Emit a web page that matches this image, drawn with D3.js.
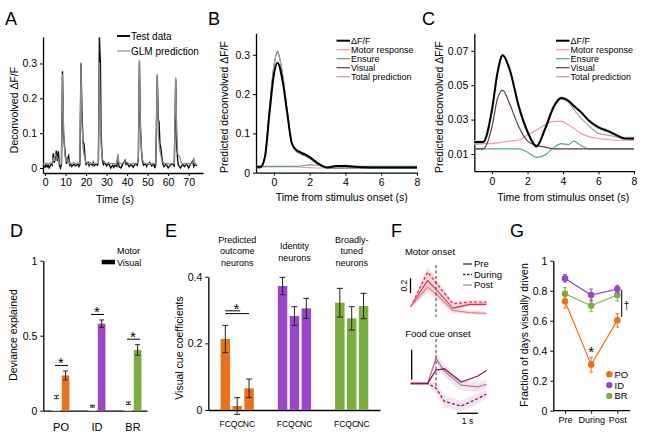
<!DOCTYPE html>
<html><head><meta charset="utf-8">
<script src="https://cdn.jsdelivr.net/npm/d3@7"></script>
<style>body{margin:0;background:#fff} svg text{font-family:Arial,"Liberation Sans",sans-serif}</style>
</head><body>
<svg id="c" width="645" height="435"></svg>
<script>
// ---------------- DATA ----------------
// Panel A: [time s, value]
const aTest = [[-1,0.008],[0,0.002],[0.5,0.01],[1,0.003],[1.5,0.008],[2,0.0],[2.5,0.006],[3,0.012],[3.5,0.008],[4,0.042],[4.5,0.015],[5,0.03],[5.5,0.05],[6,0.02],[6.5,0.048],[7,0.008],[7.5,0.0],[8,0.01],[8.5,0.278],[9,0.1],[9.5,0.062],[10,0.03],[10.5,0.012],[11,0.028],[11.5,0.035],[12,0.008],[12.5,0.012],[13,0.004],[14,0.01],[15,0.006],[16,0.012],[16.5,0.004],[17,0.01],[17.5,0.3],[18,0.16],[18.5,0.075],[19,0.07],[19.5,0.03],[20,0.01],[21,0.016],[21.5,0.006],[22,0.014],[23,0.008],[23.5,0.016],[24,0.006],[25,0.012],[25.5,0.008],[26,0.012],[26.5,0.375],[27,0.3],[27.3,0.1],[27.6,0.06],[28,0.02],[28.5,0.01],[29,0.016],[30,0.006],[31,0.014],[32,0.0],[33,0.008],[33.5,0.002],[34,0.008],[35,0.004],[35.5,0.036],[36,0.004],[37,0.0],[37.5,0.006],[38,0.012],[39,0.022],[39.5,0.01],[40,0.014],[41,0.004],[42,0.01],[43,0.002],[44,0.012],[45,0.008],[45.5,0.03],[46,0.305],[46.5,0.12],[47,0.05],[47.5,0.02],[48,0.008],[49,0.012],[49.5,0.004],[50,0.01],[51,0.016],[52,0.006],[53,0.012],[53.5,0.0],[54,0.012],[54.7,0.265],[55.2,0.14],[55.6,0.13],[56,0.07],[56.5,0.055],[57,0.03],[57.5,0.01],[58,0.004],[59,0.012],[60,0.0],[61,0.008],[62,0.012],[63,0.006],[63.7,0.255],[64.2,0.06],[64.7,0.02],[65,0.008],[66,0.0],[67,0.01],[68,0.004],[69,0.012],[70,0.0],[71,0.012],[72,0.02],[72.5,0.004],[73,0.01],[74,0.006]];
const aPred = [[-1,0.012],[0,0.012],[1,0.014],[2,0.012],[3,0.015],[3.5,0.012],[4,0.03],[4.5,0.02],[5,0.04],[5.5,0.035],[6,0.03],[6.5,0.025],[7,0.012],[8,0.012],[8.5,0.27],[9,0.12],[9.5,0.05],[10,0.025],[10.5,0.02],[11,0.025],[11.5,0.02],[12,0.013],[13,0.012],[14,0.015],[15,0.012],[16,0.014],[17,0.012],[17.5,0.302],[18,0.13],[18.5,0.06],[19,0.04],[19.5,0.025],[20,0.015],[21,0.013],[22,0.012],[23,0.014],[24,0.012],[25,0.013],[26,0.012],[26.5,0.302],[27,0.12],[27.5,0.05],[28,0.025],[29,0.015],[30,0.013],[31,0.014],[32,0.012],[33,0.013],[34,0.012],[35,0.014],[35.5,0.04],[36,0.015],[37,0.012],[38,0.014],[39,0.02],[40,0.015],[41,0.013],[42,0.012],[43,0.013],[44,0.012],[45,0.014],[45.5,0.03],[46,0.31],[46.5,0.12],[47,0.05],[47.5,0.025],[48,0.015],[49,0.013],[50,0.012],[51,0.013],[52,0.012],[53,0.013],[54,0.012],[54.7,0.27],[55.2,0.1],[55.7,0.06],[56.5,0.035],[57,0.02],[58,0.014],[59,0.012],[60,0.013],[61,0.012],[62,0.013],[63,0.012],[63.7,0.26],[64.2,0.1],[64.7,0.04],[65.3,0.035],[65.8,0.03],[66.3,0.015],[67,0.012],[68,0.013],[69,0.012],[70,0.013],[71,0.012],[72,0.015],[72.5,0.03],[73,0.012],[74,0.012]];
const aXTicks = [0,10,20,30,40,50,60,70];
const aYTicks = [0,0.1,0.2,0.3];
const aLegend = ["Test data","GLM prediction"];

// Panels B, C
const bcLegend = ["\u0394F/F","Motor response","Ensure","Visual","Total prediction"];
const bTime   = [-1,-0.75,-0.5,-0.25,0,0.2,0.5,0.75,1,1.25,1.5,2,2.5,3,3.5,4,4.5,5,6,7,8];
const bDff    = [0.015,0.015,0.04,0.15,0.25,0.28,0.23,0.15,0.075,0.058,0.052,0.04,0.023,0.013,0.017,0.017,0.015,0.014,0.013,0.013,0.013];
const bMotor  = [0.015,0.015,0.015,0.015,0.015,0.015,0.015,0.015,0.015,0.015,0.014,0.013,0.012,0.012,0.012,0.013,0.013,0.013,0.013,0.013,0.013];
const bEnsure = [0.016,0.016,0.016,0.016,0.016,0.016,0.016,0.016,0.016,0.016,0.017,0.02,0.019,0.015,0.017,0.019,0.017,0.016,0.016,0.016,0.016];
const bVisual = [0.012,0.012,0.04,0.16,0.27,0.308,0.245,0.155,0.075,0.055,0.048,0.037,0.02,0.012,0.012,0.012,0.012,0.012,0.012,0.012,0.012];
const bTotal  = [0.014,0.014,0.042,0.162,0.27,0.305,0.245,0.155,0.077,0.058,0.05,0.04,0.022,0.013,0.014,0.014,0.013,0.013,0.013,0.013,0.013];
const bXTicks = [0,2,4,6,8];
const bYTicks = [0,0.1,0.2,0.3];

const cTime   = [-1,-0.5,0,0.3,0.6,1,1.5,2,2.5,3,3.5,3.9,4.3,4.6,5,5.5,6,6.5,7,7.5,8];
const cDff    = [0.017,0.017,0.036,0.057,0.0675,0.059,0.038,0.023,0.0145,0.025,0.038,0.0425,0.041,0.038,0.0345,0.029,0.0255,0.0235,0.021,0.019,0.019];
const cMotor  = [0.0155,0.016,0.016,0.0165,0.017,0.0175,0.018,0.021,0.024,0.027,0.029,0.029,0.027,0.025,0.022,0.02,0.019,0.0185,0.018,0.018,0.018];
const cEnsure = [0.013,0.013,0.013,0.013,0.013,0.013,0.013,0.011,0.008,0.0095,0.014,0.016,0.0155,0.0175,0.015,0.013,0.013,0.013,0.013,0.013,0.013];
const cVisual = [0.013,0.013,0.026,0.042,0.047,0.039,0.026,0.0175,0.015,0.014,0.013,0.013,0.013,0.013,0.013,0.013,0.013,0.013,0.013,0.013,0.013];
const cTotal  = [0.016,0.016,0.035,0.056,0.067,0.058,0.037,0.022,0.014,0.024,0.037,0.042,0.04,0.036,0.031,0.026,0.022,0.021,0.02,0.019,0.0185];
const cYTicks = [0.01,0.03,0.05,0.07];

// Panel D
const dCats = ["PO","ID","BR"];
const dKeys = ["Motor","Visual"];
const dMotor = [0.09,0.03,0.05];
const dMotorErr = [0.01,0.006,0.008];
const dVisual = [0.235,0.58,0.405];
const dVisualErr = [0.03,0.025,0.035];
const dYTicks = [0,0.5,1];

// Panel E
const eGroups = ["PO","ID","BR"];
const eTitles = [["Predicted","outcome","neurons"],["Identity","neurons"],["Broadly-","tuned","neurons"]];
const eCues = ["FC","QC","NC"];
const ePO = [0.213,0.012,0.065];
const ePOErr = [0.041,0.025,0.028];
const eID = [0.372,0.282,0.305];
const eIDErr = [0.026,0.028,0.03];
const eBR = [0.322,0.275,0.312];
const eBRErr = [0.043,0.035,0.038];
const eYTicks = [0,0.2,0.4];

// Panel F
const fLegend = ["Pre","During","Post"];
const fMotorT = [-1.2,-0.4,0,0.8,1.6,2.4];
const fMotorPre = [0,0.35,0.23,-0.02,0.03,0.03];
const fMotorDuring = [0,0.46,0.32,0.04,0.06,0.06];
const fMotorPost = [0,0.26,0.17,-0.05,-0.08,-0.09];
const fMotorSem = [0.01,0.07,0.06,0.03,0.025,0.025];
const fFoodT = [-1.2,-0.4,0,0.4,1.2,2.0,2.4];
const fFoodPre = [0,0,0.18,0.196,0.02,0.1,0.173];
const fFoodDuring = [0,0,-0.06,-0.24,-0.3,-0.2,-0.14];
const fFoodPost = [0,0,0.333,0.164,-0.022,-0.044,-0.013];
const fFoodSem = [0.01,0.01,0.09,0.08,0.07,0.07,0.06];

// Panel G
const gPhases = ["Pre","During","Post"];
const gPO = [0.73,0.307,0.602];
const gPOErr = [0.045,0.05,0.045];
const gID = [0.882,0.771,0.811];
const gIDErr = [0.025,0.04,0.025];
const gBR = [0.78,0.70,0.771];
const gBRErr = [0.04,0.04,0.04];

// ---------------- DRAW ----------------
const FONT = 'Arial, "Liberation Sans", sans-serif';
const COL = {PO:"#e8731e", ID:"#9a46c8", BR:"#7aae3e"};
const svg = d3.select("#c");

function st(g, fs){
  g.attr("font-family", FONT).attr("font-size", fs);
  g.select(".domain").attr("stroke","#000").attr("stroke-width",1.3);
  g.selectAll(".tick line").attr("stroke","#000").attr("stroke-width",1);
  g.selectAll(".tick text").attr("fill","#000");
}
function text(x,y,s,o={}){
  const t = svg.append("text").attr("x",x).attr("y",y).text(s)
    .attr("font-size",o.fs||10).attr("fill",o.fill||"#000")
    .attr("text-anchor",o.anchor||"start");
  if(o.rot) t.attr("transform",`rotate(${o.rot},${x},${y})`);
  return t;
}
function fmt(d){ return String(d); }

// Panel labels
[["A",5,25],["B",208,25],["C",422,25],["D",10,237],["E",165,237],["F",391,237],["G",510,237]]
  .forEach(([s,x,y])=>text(x,y,s,{fs:18}));

// ===== Panel A =====
{
  const x = d3.scaleLinear().domain([-1,77]).range([43,203]);
  const y = d3.scaleLinear().domain([-0.0144,0.376]).range([173,37]);
  svg.append("g").attr("transform","translate(0,173)")
    .call(d3.axisBottom(x).tickValues(aXTicks).tickSize(3).tickSizeOuter(0)).call(st,10.5);
  svg.append("g").attr("transform","translate(43,0)")
    .call(d3.axisLeft(y).tickValues(aYTicks).tickSize(3).tickSizeOuter(0).tickFormat(fmt)).call(st,10.5);
  const line = d3.line().x(d=>x(d[0])).y(d=>y(d[1]));
  svg.append("path").attr("d",line(aTest)).attr("fill","none").attr("stroke","#111").attr("stroke-width",1.4);
  svg.append("path").attr("d",line(aPred)).attr("fill","none").attr("stroke","#8c8c8c").attr("stroke-width",1.2);
  const lc = ["#111","#8c8c8c"];
  aLegend.forEach((s,i)=>{
    const yy = 36 + i*15;
    svg.append("line").attr("x1",117).attr("x2",130).attr("y1",yy).attr("y2",yy).attr("stroke",lc[i]).attr("stroke-width",i?1.2:2);
    text(131,yy+3.5,s,{fs:10});
  });
  text(115,203,"Time (s)",{fs:10.5,anchor:"middle"});
  text(18,110,"Deconvolved \u0394F/F",{fs:10.5,anchor:"middle",rot:-90});
}

// ===== Panels B and C =====
const bcStyle = [
  {c:"#000", w:2},
  {c:"#ec9aa4", w:1.2},
  {c:"#5aa887", w:1.2},
  {c:"#5e3b58", w:1.2},
  {c:"#a6a6a6", w:1.2}
];
function drawBC(time, series, xr, yd, yr, yTicks, legX, ylabX, xlabX, band){
  const x = d3.scaleLinear().domain([-1,8]).range(xr);
  const y = d3.scaleLinear().domain(yd).range(yr);
  svg.append("g").attr("transform",`translate(0,${yr[0]})`)
    .call(d3.axisBottom(x).tickValues(bXTicks).tickSize(3).tickSizeOuter(0)).call(st,10.5);
  svg.append("g").attr("transform",`translate(${xr[0]},0)`)
    .call(d3.axisLeft(y).tickValues(yTicks).tickSize(3).tickSizeOuter(0).tickFormat(fmt)).call(st,10.5);
  const line = d3.line().x((d,i)=>x(time[i])).y(d=>y(d)).curve(d3.curveMonotoneX);
  if(band){
    const area = d3.area().x((d,i)=>x(time[i])).y0(d=>y(d-band)).y1(d=>y(d+band)).curve(d3.curveMonotoneX);
    svg.append("path").attr("d",area(series[0])).attr("fill","#e4e4e4");
  }
  [1,2,3,4,0].forEach(k=>{
    svg.append("path").attr("d",line(series[k])).attr("fill","none")
      .attr("stroke",bcStyle[k].c).attr("stroke-width",bcStyle[k].w);
  });
  bcLegend.forEach((s,i)=>{
    const yy = 40.7 + i*9;
    svg.append("line").attr("x1",legX).attr("x2",legX+13.5).attr("y1",yy).attr("y2",yy)
      .attr("stroke",bcStyle[i].c).attr("stroke-width",bcStyle[i].w);
    text(legX+14.5,yy+3.2,s,{fs:9});
  });
  text(xlabX,200.5,"Time from stimulus onset (s)",{fs:10.5,anchor:"middle"});
  text(ylabX,107,"Predicted deconvolved \u0394F/F",{fs:10.5,anchor:"middle",rot:-90});
}
drawBC(bTime,[bDff,bMotor,bEnsure,bVisual,bTotal],[256,417],[0,0.355],[172.7,33.2],bYTicks,336.5,228,341.7,0);
drawBC(cTime,[cDff,cMotor,cEnsure,cVisual,cTotal],[474.3,634],[0,0.0802],[171.2,33.3],cYTicks,556,443,563.3,0.0012);

// ===== Panel D =====
{
  const y = d3.scaleLinear().domain([0,1]).range([410.7,260.7]);
  const x0 = d3.scalePoint().domain(dCats).range([61,133]);
  const x1 = d3.scaleBand().domain(dKeys).range([-10,10]).padding(0.17);
  svg.append("g").attr("transform","translate(43.3,0)")
    .call(d3.axisLeft(y).tickValues(dYTicks).tickSize(3).tickSizeOuter(0).tickFormat(fmt)).call(st,10.5);
  const xa = d3.scaleLinear().domain([0,1]).range([43.3,147]);
  svg.append("g").attr("transform","translate(0,410.7)")
    .call(d3.axisBottom(xa).tickValues([]).tickSizeOuter(0)).call(st,10.5);
  dCats.forEach((c,i)=>{
    const cx = x0(c);
    const vals = [dMotor[i], dVisual[i]], errs = [dMotorErr[i], dVisualErr[i]];
    dKeys.forEach((k,j)=>{
      const bx = cx + x1(k);
      svg.append("rect").attr("x",bx).attr("y",y(vals[j])).attr("width",x1.bandwidth())
        .attr("height",y(0)-y(vals[j])).attr("fill", j? COL[c] : "#fff");
      const mx = bx + x1.bandwidth()/2;
      svg.append("path").attr("d",`M${mx},${y(vals[j]-errs[j])}V${y(vals[j]+errs[j])}M${mx-2.5},${y(vals[j]-errs[j])}H${mx+2.5}M${mx-2.5},${y(vals[j]+errs[j])}H${mx+2.5}`)
        .attr("stroke","#222").attr("stroke-width",1).attr("fill","none");
    });
    const ly = y(dVisual[i]+dVisualErr[i]) - 5.5;
    svg.append("line").attr("x1",cx-6).attr("x2",cx+7).attr("y1",ly).attr("y2",ly).attr("stroke","#000").attr("stroke-width",1);
    text(cx,ly+3,"*",{fs:15,anchor:"middle"});
    text(cx,430.5,c,{fs:11,anchor:"middle"});
  });
  // legend
  text(117,254,"Motor",{fs:9});
  svg.append("rect").attr("x",101.7).attr("y",259.8).attr("width",13.3).attr("height",4.5).attr("fill","#000");
  text(117,265.5,"Visual",{fs:9});
  text(17,335,"Deviance explained",{fs:10.5,anchor:"middle",rot:-90});
}

// ===== Panel E =====
{
  const y = d3.scaleLinear().domain([0,0.4]).range([410,276.7]);
  const x0 = d3.scalePoint().domain(eGroups).range([237.2,351.7]);
  const x1 = d3.scaleBand().domain(eCues).range([-19,19]).padding(0.2);
  svg.append("g").attr("transform","translate(208.3,0)")
    .call(d3.axisLeft(y).tickValues(eYTicks).tickSize(3).tickSizeOuter(0).tickFormat(fmt)).call(st,10.5);
  const xa = d3.scaleLinear().domain([0,1]).range([208.3,380]);
  svg.append("g").attr("transform","translate(0,410)")
    .call(d3.axisBottom(xa).tickValues([]).tickSizeOuter(0)).call(st,10.5);
  const data = {PO:[ePO,ePOErr], ID:[eID,eIDErr], BR:[eBR,eBRErr]};
  eGroups.forEach((g,gi)=>{
    const [v,e] = data[g];
    eCues.forEach((c,j)=>{
      const bx = x0(g)+x1(c), mx = bx + x1.bandwidth()/2;
      svg.append("rect").attr("x",bx).attr("y",y(v[j])).attr("width",x1.bandwidth())
        .attr("height",y(0)-y(v[j])).attr("fill",COL[g]);
      svg.append("path").attr("d",`M${mx},${y(v[j]-e[j])}V${y(v[j]+e[j])}M${mx-3},${y(v[j]-e[j])}H${mx+3}M${mx-3},${y(v[j]+e[j])}H${mx+3}`)
        .attr("stroke","#222").attr("stroke-width",1).attr("fill","none");
      text(mx,426.5,c,{fs:8.6,anchor:"middle"});
    });
    const lines = eTitles[gi];
    const y0 = lines.length===3 ? 242.5 : 249;
    lines.forEach((s,k)=>text(x0(g),y0+k*11.8,s,{fs:9,anchor:"middle"}));
  });
  // significance
  const fcx = x0("PO")+x1("FC")+x1.bandwidth()/2;
  const qcx = x0("PO")+x1("QC")+x1.bandwidth()/2;
  const ncx = x0("PO")+x1("NC")+x1.bandwidth()/2;
  svg.append("line").attr("x1",fcx).attr("x2",qcx+3).attr("y1",310.8).attr("y2",310.8).attr("stroke","#000");
  svg.append("line").attr("x1",fcx).attr("x2",ncx).attr("y1",313.6).attr("y2",313.6).attr("stroke","#000");
  text(236.5,314,"*",{fs:15,anchor:"middle"});
  text(183,348,"Visual cue coefficients",{fs:10.5,anchor:"middle",rot:-90});
}

// ===== Panel F =====
{
  const x = d3.scaleLinear().domain([0,1]).range([436,457]);
  const ym = d3.scaleLinear().domain([0,1]).range([306.7,231.7]);
  const yf = d3.scaleLinear().domain([0,1]).range([383.5,308.5]);
  const mCol = "#d52d4b", mLight = "#e5808f", mBand = "#f5c3cc";
  const fCol = "#86195c", fLight = "#b878a6", fBand = "#ead0e2";
  function series(t, vals, sem, ys, col, dash, w, bandCol){
    if(bandCol){
      const area = d3.area().x((d,i)=>x(t[i])).y0((d,i)=>ys(d-sem[i])).y1((d,i)=>ys(d+sem[i]));
      svg.append("path").attr("d",area(vals)).attr("fill",bandCol).attr("opacity",0.55);
    }
    const line = d3.line().x((d,i)=>x(t[i])).y(d=>ys(d));
    const p = svg.append("path").attr("d",line(vals)).attr("fill","none").attr("stroke",col).attr("stroke-width",w);
    if(dash) p.attr("stroke-dasharray","3,2");
  }
  series(fMotorT,fMotorDuring,fMotorSem,ym,mCol,true,1.3,mBand);
  series(fMotorT,fMotorPre,fMotorSem,ym,mCol,false,1.3,mBand);
  series(fMotorT,fMotorPost,fMotorSem,ym,mLight,false,1.3,mBand);
  series(fFoodT,fFoodDuring,fFoodSem,yf,fCol,true,1.3,fBand);
  series(fFoodT,fFoodPost,fFoodSem,yf,fLight,false,1.3,fBand);
  series(fFoodT,fFoodPre,fFoodSem,yf,fCol,false,1.3,null);
  // onset dashed lines
  svg.append("line").attr("x1",x(0)).attr("x2",x(0)).attr("y1",265).attr("y2",317).attr("stroke","#555").attr("stroke-width",1.2).attr("stroke-dasharray","3,2.5");
  svg.append("line").attr("x1",x(0)).attr("x2",x(0)).attr("y1",339).attr("y2",388).attr("stroke","#555").attr("stroke-width",1.2).attr("stroke-dasharray","3,2.5");
  // scale bars
  svg.append("line").attr("x1",410.5).attr("x2",410.5).attr("y1",ym(0.38)).attr("y2",ym(0.18)).attr("stroke","#000").attr("stroke-width",1.3);
  text(407,ym(0.28),"0.2",{fs:8.5,anchor:"middle",rot:-90});
  svg.append("line").attr("x1",411.7).attr("x2",411.7).attr("y1",yf(0.45)).attr("y2",yf(0.05)).attr("stroke","#000").attr("stroke-width",1.3);
  svg.append("line").attr("x1",x(1)).attr("x2",x(2)).attr("y1",413.3).attr("y2",413.3).attr("stroke","#000").attr("stroke-width",1.3);
  text((x(1)+x(2))/2,423.5,"1 s",{fs:8.5,anchor:"middle"});
  text(430,255,"Motor onset",{fs:9.5,anchor:"middle"});
  text(438,337,"Food cue onset",{fs:9.5,anchor:"middle"});
  const lstyles = [[mCol,false,"#333"],[mCol,true,"#333"],[mLight,false,"#999"]];
  fLegend.forEach((s,i)=>{
    const yy = 264 + i*10.5;
    const l = svg.append("line").attr("x1",463).attr("x2",472).attr("y1",yy).attr("y2",yy)
      .attr("stroke",lstyles[i][2]).attr("stroke-width",1.3);
    if(lstyles[i][1]) l.attr("stroke-dasharray","2.5,1.5");
    text(474,yy+3.3,s,{fs:9.5});
  });
}

// ===== Panel G =====
{
  const y = d3.scaleLinear().domain([0,1]).range([410.7,260.7]);
  const x = d3.scalePoint().domain(gPhases).range([565,617.3]);
  svg.append("g").attr("transform","translate(553.3,0)")
    .call(d3.axisLeft(y).tickValues([0,0.2,0.4,0.6,0.8,1]).tickSize(3).tickSizeOuter(0).tickFormat(fmt)).call(st,10.5);
  const xa = d3.scalePoint().domain(gPhases).range([565,617.3]);
  const ax = svg.append("g").attr("transform","translate(0,410.7)")
    .call(d3.axisBottom(xa).tickSize(3).tickSizeOuter(0)).call(st,9);
  ax.select(".domain").attr("d","M553.3,0H630");
  const groups = [["BR",gBR,gBRErr],["ID",gID,gIDErr],["PO",gPO,gPOErr]];
  groups.forEach(([g,v,e])=>{
    const line = d3.line().x((d,i)=>x(gPhases[i])).y(d=>y(d));
    svg.append("path").attr("d",line(v)).attr("fill","none").attr("stroke",COL[g]).attr("stroke-width",1.2);
    v.forEach((d,i)=>{
      const cx = x(gPhases[i]);
      svg.append("path").attr("d",`M${cx},${y(d-e[i])}V${y(d+e[i])}M${cx-1.8},${y(d-e[i])}H${cx+1.8}M${cx-1.8},${y(d+e[i])}H${cx+1.8}`)
        .attr("stroke",COL[g]).attr("stroke-width",1).attr("fill","none");
      svg.append("circle").attr("cx",cx).attr("cy",y(d)).attr("r",3.3).attr("fill",COL[g]);
    });
  });
  text(x("During"),356.5,"*",{fs:15,anchor:"middle"});
  svg.append("line").attr("x1",621.7).attr("x2",621.7).attr("y1",y(0.805)).attr("y2",y(0.625)).attr("stroke","#000").attr("stroke-width",1);
  text(626.5,308.5,"\u2020",{fs:10,anchor:"middle"});
  ["PO","ID","BR"].forEach((g,i)=>{
    const yy = 374.3 + i*10.8;
    svg.append("circle").attr("cx",609.3).attr("cy",yy).attr("r",3.2).attr("fill",COL[g]);
    text(614.5,yy+3.5,g,{fs:9.5});
  });
  text(528,335,"Fraction of days visually driven",{fs:10.5,anchor:"middle",rot:-90});
}
</script>
</body></html>
